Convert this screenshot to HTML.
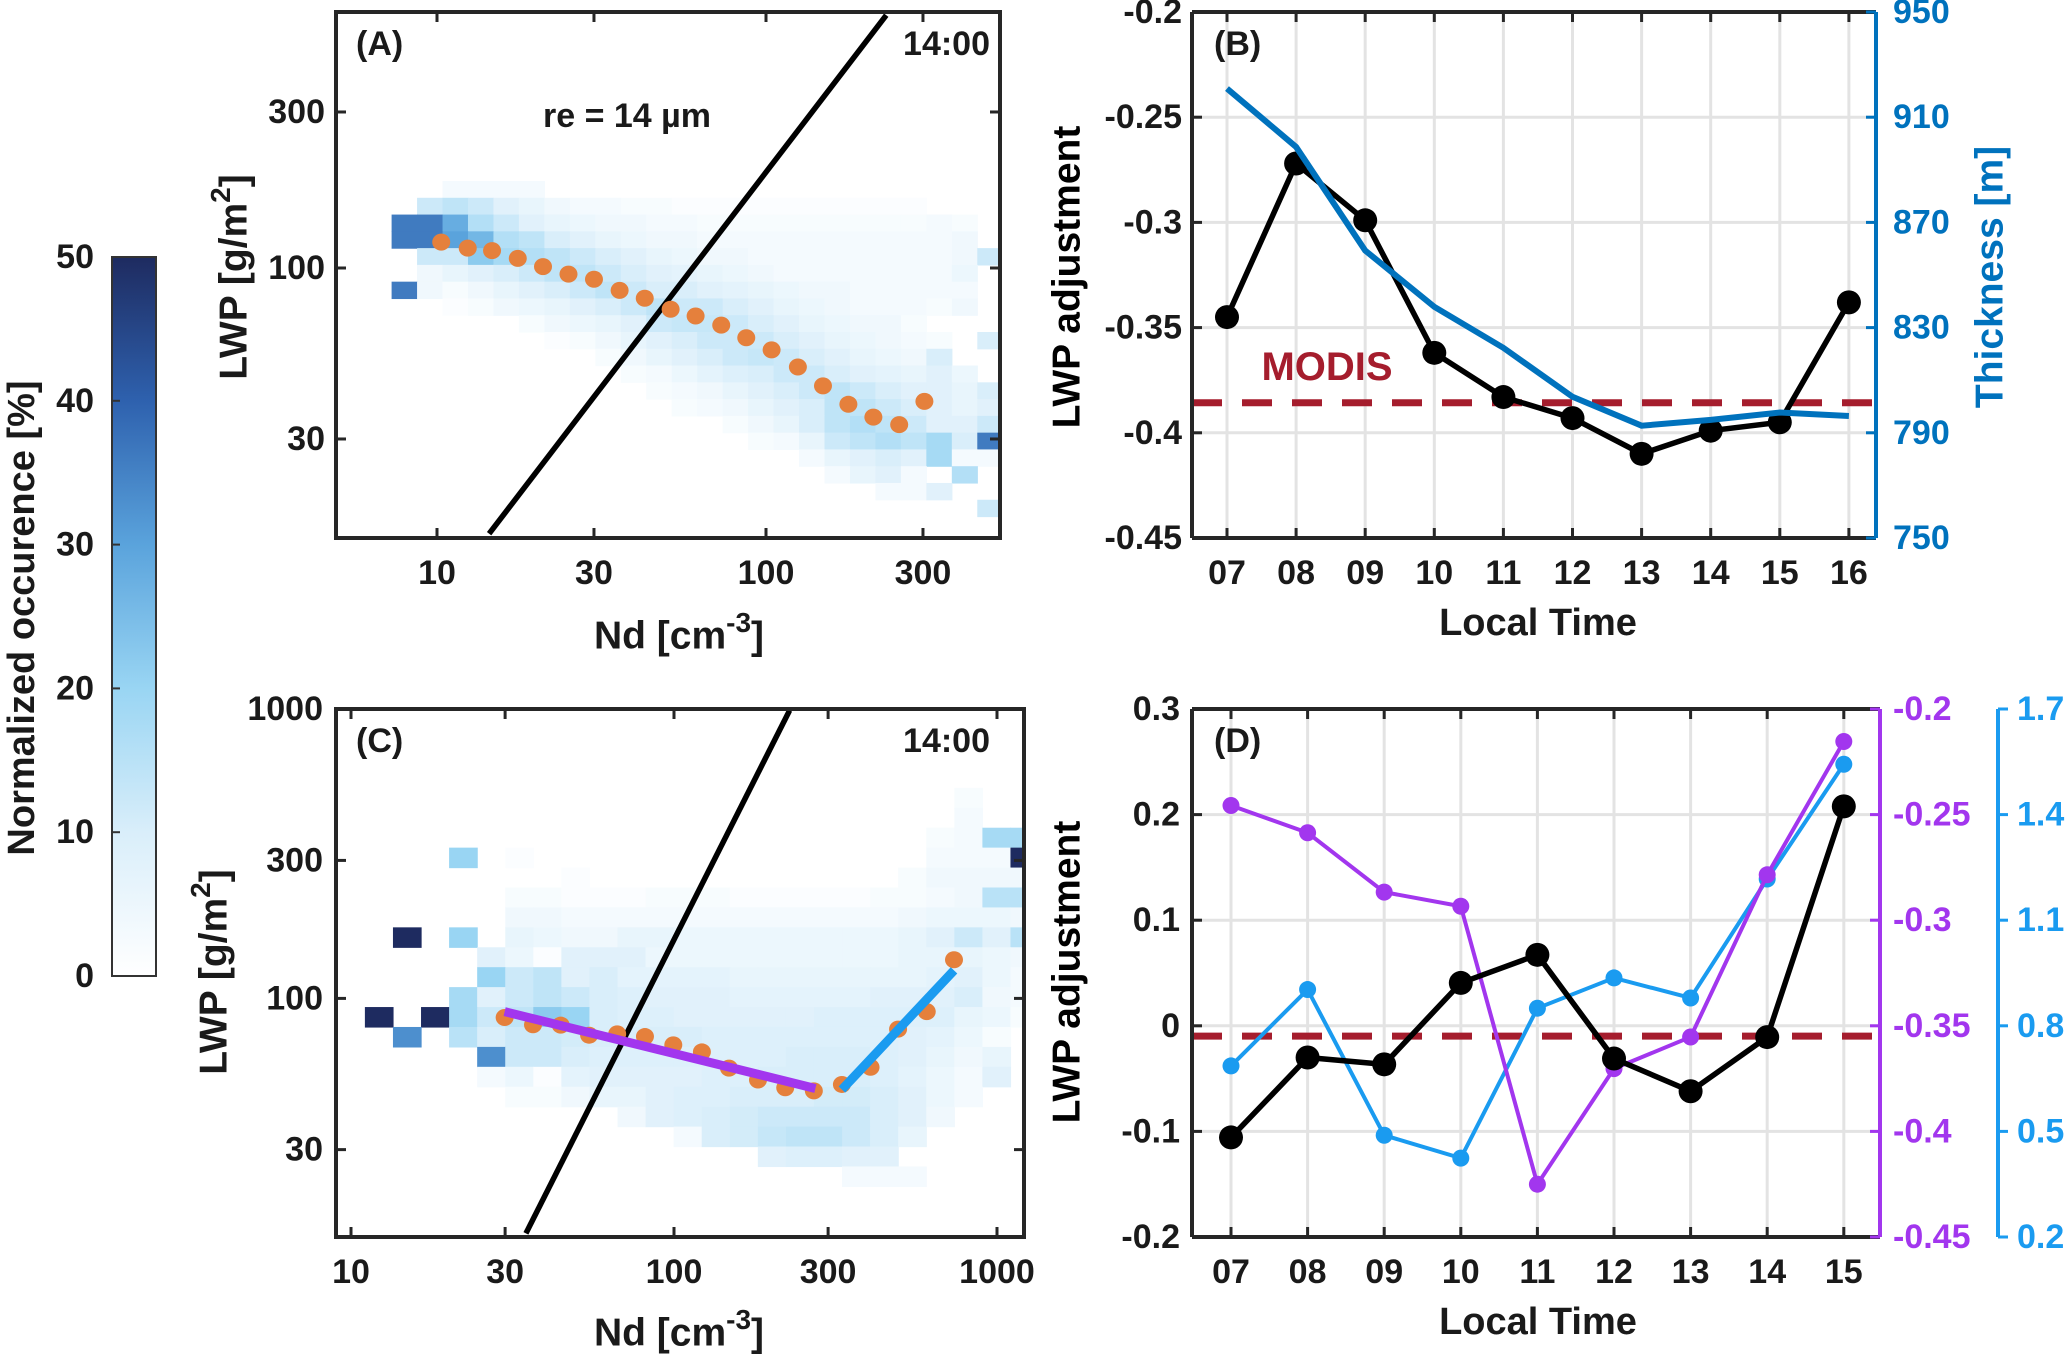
<!DOCTYPE html>
<html><head><meta charset="utf-8">
<style>
html,body{margin:0;padding:0;background:#fff;}
svg{display:block;font-family:"Liberation Sans",Arial,sans-serif;font-weight:bold;}
</style></head>
<body>
<svg id="fig" width="2067" height="1356" viewBox="0 0 2067 1356" xmlns="http://www.w3.org/2000/svg">
<defs>
<linearGradient id="cbgrad" x1="0" y1="1" x2="0" y2="0">
<stop offset="0" stop-color="#ffffff"/>
<stop offset="0.2" stop-color="#d9eefa"/>
<stop offset="0.4" stop-color="#99d5f3"/>
<stop offset="0.6" stop-color="#5aa3dc"/>
<stop offset="0.8" stop-color="#2e61ae"/>
<stop offset="1" stop-color="#1e2b60"/>
</linearGradient>
<clipPath id="clipA"><rect x="336" y="12" width="664" height="526"/></clipPath>
<clipPath id="clipC"><rect x="336" y="709" width="688" height="528"/></clipPath>
</defs>
<g id="layer"></g>
</svg>
<script>
// ---------- DATA ----------
const heatA = [
[0,0,3,3,3,3,0,0,0,0,0,0,0,0,0,0,0,0,0,0,0,0,0,0],
[0,12,14,12,8,6,4,3,3,2,2,1,1,1,1,1,1,1,1,1,1,0,0,0],
[36,36,28,16,12,8,6,5,4,4,3,3,2,2,2,2,2,2,2,2,2,3,2,0],
[36,36,30,26,16,14,10,8,6,5,4,4,3,3,3,3,3,3,3,3,3,3,4,0],
[0,12,12,22,18,16,14,12,10,8,6,5,4,4,3,3,3,3,3,3,3,3,4,12],
[0,4,6,8,10,12,14,14,12,10,8,7,6,5,4,3,3,3,3,3,3,3,5,0],
[36,4,2,4,6,8,10,12,14,12,10,10,8,7,6,5,4,4,3,3,3,3,3,0],
[0,0,1,2,4,5,6,8,10,12,14,12,12,10,8,6,5,4,3,3,3,2,4,0],
[0,0,0,0,0,2,4,5,6,8,12,13,13,12,10,8,6,5,4,4,2,0,0,0],
[0,0,0,0,0,0,1,2,4,6,8,10,12,12,12,10,8,6,5,4,3,2,0,10],
[0,0,0,0,0,0,0,0,2,4,6,8,10,12,13,12,10,8,6,5,4,10,0,0],
[0,0,0,0,0,0,0,0,0,2,3,5,7,9,10,12,12,10,8,7,6,8,5,0],
[0,0,0,0,0,0,0,0,0,0,2,3,4,6,8,10,12,14,12,10,8,8,6,10],
[0,0,0,0,0,0,0,0,0,0,0,2,3,4,6,8,10,14,14,12,10,8,6,8],
[0,0,0,0,0,0,0,0,0,0,0,0,0,2,4,6,10,14,16,14,12,8,8,12],
[0,0,0,0,0,0,0,0,0,0,0,0,0,0,2,3,6,12,14,16,14,18,10,36],
[0,0,0,0,0,0,0,0,0,0,0,0,0,0,0,0,3,6,8,10,8,18,3,3],
[0,0,0,0,0,0,0,0,0,0,0,0,0,0,0,0,0,3,6,8,3,0,16,0],
[0,0,0,0,0,0,0,0,0,0,0,0,0,0,0,0,0,0,0,3,3,8,0,0],
[0,0,0,0,0,0,0,0,0,0,0,0,0,0,0,0,0,0,0,0,0,0,0,12]
];
const heatC = [
[0,0,0,0,0,0,0,0,0,0,0,0,0,0,0,0,0,0,0,0,0,2,0,0],
[0,0,0,0,0,0,0,0,0,0,0,0,0,0,0,0,0,0,0,0,0,3,0,0],
[0,0,0,0,0,0,0,0,0,0,0,0,0,0,0,0,0,0,0,0,2,3,18,18],
[0,0,0,20,0,1,0,0,0,0,0,0,0,0,0,0,0,0,0,0,3,3,3,50],
[0,0,0,0,0,0,0,1,0,0,0,0,0,0,0,0,0,0,0,2,4,4,4,4],
[0,0,0,0,0,2,2,1,1,1,2,2,2,1,1,1,1,1,2,2,3,4,15,15],
[0,0,0,0,0,4,4,3,3,3,3,3,3,3,3,3,3,3,3,4,5,5,5,4],
[0,50,0,20,0,6,5,4,4,6,6,5,5,5,5,5,5,5,5,6,8,12,8,15],
[0,0,0,0,8,5,1,8,8,8,5,5,5,5,5,5,5,5,5,6,6,6,5,4],
[0,0,0,0,20,12,14,8,10,7,7,7,7,6,6,6,6,6,6,6,7,8,5,3],
[0,0,0,18,8,12,14,12,10,9,8,8,8,7,7,7,7,7,8,8,8,10,4,3],
[50,0,50,18,12,14,22,20,10,9,9,8,8,8,8,8,9,9,9,9,9,6,5,2],
[0,33,0,15,10,12,12,11,10,10,10,10,9,9,9,9,9,9,9,8,7,5,2,0],
[0,0,0,0,33,12,12,10,9,9,9,9,9,9,9,10,10,10,9,8,6,4,6,0],
[0,0,0,0,3,5,1,7,8,8,8,8,9,9,10,10,10,10,9,7,5,3,8,0],
[0,0,0,0,0,2,2,4,6,6,8,9,9,10,10,10,11,11,10,8,5,3,0,0],
[0,0,0,0,0,0,0,0,0,4,8,9,10,11,12,12,12,12,10,8,4,0,0,0],
[0,0,0,0,0,0,0,0,0,0,0,3,10,11,13,14,14,12,10,6,0,0,0,0],
[0,0,0,0,0,0,0,0,0,0,0,0,0,0,8,9,9,8,8,0,0,0,0,0],
[0,0,0,0,0,0,0,0,0,0,0,0,0,0,0,0,0,3,3,3,0,0,0,0]
];
const dotsA_x = [10.3,12.4,14.7,17.6,21.0,25.1,30.0,35.9,42.8,51.3,61.1,73.1,87.1,104,125,149,178,212,254,303];
const dotsA_y = [120,115,113,107,101,95.8,92.4,85.4,80.8,74.8,71.3,66.9,61.2,56.2,49.8,43.6,38.3,35.0,33.2,39.1];
const reLineA_x = [14.4,232];
const reLineA_y = [15.4,593];
const dotsC_x = [29.9,36.6,44.6,54.6,66.7,81.3,99.5,122,148,182,221,271,331,406,494,606,736];
const dotsC_y = [85.9,81.1,80.8,74.6,75.4,73.8,69.1,65.3,57.4,52.2,49.1,47.9,50.4,57.8,78.3,90.0,136];
const reLineC_x = [34.8,228];
const reLineC_y = [15.4,991];
const fitLow_x = [29.9,274];
const fitLow_y = [90.0,48.8];
const fitHigh_x = [331,736];
const fitHigh_y = [48.4,125];
const timesB = ["07","08","09","10","11","12","13","14","15","16"];
const adjB = [-0.345,-0.272,-0.299,-0.362,-0.383,-0.393,-0.410,-0.399,-0.395,-0.338];
const thickB = [920.9,898.7,859.3,837.9,822.3,803.7,792.7,794.9,797.7,796.4];
const modisB = -0.3857;
const timesD = ["07","08","09","10","11","12","13","14","15"];
const adjD = [-0.1057,-0.030,-0.0365,0.0406,0.0672,-0.031,-0.062,-0.0107,0.2078];
const purpD = [-0.2457,-0.2586,-0.2867,-0.2934,-0.425,-0.3703,-0.3553,-0.2785,-0.2154];
const blueD = [0.686,0.903,0.489,0.424,0.850,0.936,0.879,1.217,1.543];
const modisD = -0.0098;
const ticksBleft = ["-0.2","-0.25","-0.3","-0.35","-0.4","-0.45"];
const ticksBright = ["950","910","870","830","790","750"];
const ticksDleft = ["0.3","0.2","0.1","0","-0.1","-0.2"];
const ticksDpurp = ["-0.2","-0.25","-0.3","-0.35","-0.4","-0.45"];
const ticksDblue = ["1.7","1.4","1.1","0.8","0.5","0.2"];
const ticksAx = [10,30,100,300];
const ticksAy = [30,100,300];
const ticksCx = [10,30,100,300,1000];
const ticksCy = [30,100,300,1000];
const cbTicks = [0,10,20,30,40,50];

// ---------- HELPERS ----------
const NS="http://www.w3.org/2000/svg";
const layer=document.getElementById('layer');
function mk(tag,attrs,parent){const e=document.createElementNS(NS,tag);for(const k in attrs)e.setAttribute(k,attrs[k]);(parent||layer).appendChild(e);return e;}
function txt(s,x,y,size,anchor,fill,parent,rot){const e=mk('text',{x:x,y:y,'font-size':size,'text-anchor':anchor||'middle','dominant-baseline':'central',fill:fill||'#1a1a1a'},parent);if(rot)e.setAttribute('transform','rotate('+rot+' '+x+' '+y+')');e.textContent=s;return e;}
const L=Math.log10;
const xA=v=>437+(L(v)-1)*329;
const yA=v=>268-(L(v)-2)*327;
const xC=v=>351+(L(v)-1)*323;
const yC=v=>998.4-(L(v)-2)*289.2;
function cmap(v){
 const st=[[0,[255,255,255]],[10,[217,238,250]],[20,[153,213,243]],[30,[90,163,220]],[40,[46,97,174]],[50,[30,43,96]]];
 for(let i=0;i<st.length-1;i++){if(v<=st[i+1][0]){const t=(v-st[i][0])/(st[i+1][0]-st[i][0]);const a=st[i][1],b=st[i+1][1];return 'rgb('+a.map((c,j)=>Math.round(c+(b[j]-c)*t)).join(',')+')';}}
 return 'rgb(30,43,96)';
}

// ---------- COLORBAR ----------
const cb=mk('g',{});


mk('rect',{x:112,y:257,width:44,height:719,fill:'url(#cbgrad)',stroke:'#333','stroke-width':2},cb);
const cbY=v=>976-v/50*719;
cbTicks.forEach(t=>{mk('line',{x1:112,x2:120,y1:cbY(t),y2:cbY(t),stroke:'#333','stroke-width':2},cb);txt(String(t),94,cbY(t),34,'end','#1a1a1a',cb);});
const cbl=txt('Normalized occurence [%]',22,618,38,'middle','#1a1a1a',cb,-90);



// ---------- HEATMAP DRAW ----------
function heat(mat,x0log,dx,y0log,dy,xf,yf,clip,name){
 const g=mk('g',{'clip-path':'url(#'+clip+')'});
 
 
 mat.forEach((row,r)=>row.forEach((v,c)=>{ if(v<=0)return;
  const xa=xf(Math.pow(10,x0log+c*dx)),xb=xf(Math.pow(10,x0log+(c+1)*dx));
  const ya=yf(Math.pow(10,y0log-r*dy)),yb=yf(Math.pow(10,y0log-(r+1)*dy));
  const e=mk('rect',{x:xa,y:ya,width:xb-xa+0.6,height:yb-ya+0.6,fill:cmap(v)},g);
  
  
 }));
 return g;
}

// ---------- PANEL A ----------
heat(heatA,0.862,0.0774,2.266,0.0513,xA,yA,'clipA','heatmap-a');
const lA=mk('line',{x1:xA(reLineA_x[0]),y1:yA(reLineA_y[0]),x2:xA(reLineA_x[1]),y2:yA(reLineA_y[1]),stroke:'#000','stroke-width':5.5,'clip-path':'url(#clipA)'});


dotsA_x.forEach((v,i)=>{const e=mk('ellipse',{cx:xA(v),cy:yA(dotsA_y[i]),rx:9,ry:8.5,fill:'#e5803c'});
 
 });
mk('rect',{x:336,y:12,width:664,height:526,fill:'none',stroke:'#262626','stroke-width':4});
ticksAx.forEach(t=>{const x=xA(t);mk('line',{x1:x,x2:x,y1:538,y2:528,stroke:'#262626','stroke-width':3});mk('line',{x1:x,x2:x,y1:12,y2:22,stroke:'#262626','stroke-width':3});txt(String(t),x,573,34);});
ticksAy.forEach(t=>{const y=yA(t);mk('line',{x1:336,x2:346,y1:y,y2:y,stroke:'#262626','stroke-width':3});mk('line',{x1:1000,x2:990,y1:y,y2:y,stroke:'#262626','stroke-width':3});txt(String(t),325,y,34,'end');});
txt('(A)',356,44,34,'start');
txt('14:00',990,44,34,'end');
txt('re = 14 µm',627,116,34);
{const t=txt('',234,277,39,'middle','#1a1a1a',null,-90);t.innerHTML='LWP [g/m<tspan dy="-14" font-size="28">2</tspan><tspan dy="14">]</tspan>';}
{const t=txt('',679,636,39);t.innerHTML='Nd [cm<tspan dy="-14" font-size="28">-3</tspan><tspan dy="14">]</tspan>';}

// ---------- PANEL C ----------
heat(heatC,1.043,0.0869,2.728,0.0689,xC,yC,'clipC','heatmap-c');
const lC=mk('line',{x1:xC(reLineC_x[0]),y1:yC(reLineC_y[0]),x2:xC(reLineC_x[1]),y2:yC(reLineC_y[1]),stroke:'#000','stroke-width':5.5,'clip-path':'url(#clipC)'});


dotsC_x.forEach((v,i)=>{const e=mk('ellipse',{cx:xC(v),cy:yC(dotsC_y[i]),rx:9,ry:8.5,fill:'#e5803c'});
 
 });
const fl=mk('line',{x1:xC(fitLow_x[0]),y1:yC(fitLow_y[0]),x2:xC(fitLow_x[1]),y2:yC(fitLow_y[1]),stroke:'#a236ee','stroke-width':9});


const fh=mk('line',{x1:xC(fitHigh_x[0]),y1:yC(fitHigh_y[0]),x2:xC(fitHigh_x[1]),y2:yC(fitHigh_y[1]),stroke:'#1a9bf0','stroke-width':9});


mk('rect',{x:336,y:709,width:688,height:528,fill:'none',stroke:'#262626','stroke-width':4});
ticksCx.forEach(t=>{const x=xC(t);mk('line',{x1:x,x2:x,y1:1237,y2:1227,stroke:'#262626','stroke-width':3});mk('line',{x1:x,x2:x,y1:709,y2:719,stroke:'#262626','stroke-width':3});txt(String(t),x,1272,34);});
ticksCy.forEach(t=>{const y=yC(t);mk('line',{x1:336,x2:346,y1:y,y2:y,stroke:'#262626','stroke-width':3});mk('line',{x1:1024,x2:1014,y1:y,y2:y,stroke:'#262626','stroke-width':3});txt(String(t),323,y,34,'end');});
txt('(C)',356,741,34,'start');
txt('14:00',990,741,34,'end');
{const t=txt('',214,972,39,'middle','#1a1a1a',null,-90);t.innerHTML='LWP [g/m<tspan dy="-14" font-size="28">2</tspan><tspan dy="14">]</tspan>';}
{const t=txt('',679,1333,39);t.innerHTML='Nd [cm<tspan dy="-14" font-size="28">-3</tspan><tspan dy="14">]</tspan>';}

// ---------- PANEL B ----------
const xB=i=>1227+i*69.1;
const yB=v=>12+(-0.2-v)/0.25*526;
const yBr=v=>12+(950-v)/200*526;
for(let i=0;i<timesB.length;i++){mk('line',{x1:xB(i),x2:xB(i),y1:12,y2:538,stroke:'#e3e3e3','stroke-width':3});}
ticksBleft.forEach((t,i)=>{const y=12+i*105.2;mk('line',{x1:1192,x2:1876,y1:y,y2:y,stroke:'#e3e3e3','stroke-width':3});});
const mB=mk('line',{x1:1192,x2:1876,y1:yB(modisB),y2:yB(modisB),stroke:'#a51d2d','stroke-width':7,'stroke-dasharray':'30 20'});


{const t=txt('MODIS',1327,367,40,'middle','#a51d2d');}
const pB=mk('polyline',{points:adjB.map((v,i)=>xB(i)+','+yB(v)).join(' '),fill:'none',stroke:'#000','stroke-width':5.5});


adjB.forEach((v,i)=>{const e=mk('circle',{cx:xB(i),cy:yB(v),r:12,fill:'#000'});});
const tB=mk('polyline',{points:thickB.map((v,i)=>xB(i)+','+yBr(v)).join(' '),fill:'none',stroke:'#0072bd','stroke-width':6});


mk('line',{x1:1192,x2:1876,y1:12,y2:12,stroke:'#262626','stroke-width':4});
mk('line',{x1:1192,x2:1876,y1:538,y2:538,stroke:'#262626','stroke-width':4});
mk('line',{x1:1192,x2:1192,y1:12,y2:538,stroke:'#262626','stroke-width':4});
mk('line',{x1:1876,x2:1876,y1:12,y2:538,stroke:'#0072bd','stroke-width':4});
ticksBleft.forEach((t,i)=>{const y=12+i*105.2;mk('line',{x1:1192,x2:1202,y1:y,y2:y,stroke:'#262626','stroke-width':3});txt(t,1182,y,34,'end');});
ticksBright.forEach((t,i)=>{const y=12+i*105.2;mk('line',{x1:1876,x2:1866,y1:y,y2:y,stroke:'#0072bd','stroke-width':3});txt(t,1893,y,34,'start','#0072bd');});
timesB.forEach((t,i)=>{mk('line',{x1:xB(i),x2:xB(i),y1:538,y2:528,stroke:'#262626','stroke-width':3});mk('line',{x1:xB(i),x2:xB(i),y1:12,y2:22,stroke:'#262626','stroke-width':3});txt(t,xB(i),573,34);});
txt('(B)',1214,44,34,'start');
txt('LWP adjustment',1067,277,39,'middle','#000',null,-90);
txt('Thickness [m]',1990,277,39,'middle','#0072bd',null,-90);
txt('Local Time',1538,623,38);

// ---------- PANEL D ----------
const xD=i=>1231+i*76.6;
const yD=v=>709+(0.3-v)/0.5*528;
const yDp=v=>709+(-0.2-v)/0.25*528;
const yDb=v=>709+(1.7-v)/1.5*528;
for(let i=0;i<timesD.length;i++){mk('line',{x1:xD(i),x2:xD(i),y1:709,y2:1237,stroke:'#e3e3e3','stroke-width':3});}
ticksDleft.forEach((t,i)=>{const y=709+i*105.6;mk('line',{x1:1192,x2:1880,y1:y,y2:y,stroke:'#e3e3e3','stroke-width':3});});
const mD=mk('line',{x1:1192,x2:1880,y1:yD(modisD),y2:yD(modisD),stroke:'#a51d2d','stroke-width':7,'stroke-dasharray':'30 20'});


const pDb=mk('polyline',{points:blueD.map((v,i)=>xD(i)+','+yDb(v)).join(' '),fill:'none',stroke:'#1a9bf0','stroke-width':4});


blueD.forEach((v,i)=>{const e=mk('circle',{cx:xD(i),cy:yDb(v),r:8.5,fill:'#1a9bf0'});});
const pDp=mk('polyline',{points:purpD.map((v,i)=>xD(i)+','+yDp(v)).join(' '),fill:'none',stroke:'#a236ee','stroke-width':4});


purpD.forEach((v,i)=>{const e=mk('circle',{cx:xD(i),cy:yDp(v),r:8.5,fill:'#a236ee'});});
const pD=mk('polyline',{points:adjD.map((v,i)=>xD(i)+','+yD(v)).join(' '),fill:'none',stroke:'#000','stroke-width':5.5});


adjD.forEach((v,i)=>{const e=mk('circle',{cx:xD(i),cy:yD(v),r:12,fill:'#000'});});
mk('line',{x1:1192,x2:1880,y1:709,y2:709,stroke:'#262626','stroke-width':4});
mk('line',{x1:1192,x2:1880,y1:1237,y2:1237,stroke:'#262626','stroke-width':4});
mk('line',{x1:1192,x2:1192,y1:709,y2:1237,stroke:'#262626','stroke-width':4});
mk('line',{x1:1880,x2:1880,y1:709,y2:1237,stroke:'#a236ee','stroke-width':4});
mk('line',{x1:1998,x2:1998,y1:709,y2:1237,stroke:'#1a9bf0','stroke-width':4});
ticksDleft.forEach((t,i)=>{const y=709+i*105.6;mk('line',{x1:1192,x2:1202,y1:y,y2:y,stroke:'#262626','stroke-width':3});txt(t,1180,y,34,'end');});
ticksDpurp.forEach((t,i)=>{const y=709+i*105.6;mk('line',{x1:1880,x2:1870,y1:y,y2:y,stroke:'#a236ee','stroke-width':3});txt(t,1893,y,34,'start','#a236ee');});
ticksDblue.forEach((t,i)=>{const y=709+i*105.6;mk('line',{x1:1998,x2:2008,y1:y,y2:y,stroke:'#1a9bf0','stroke-width':3});txt(t,2017,y,34,'start','#1a9bf0');});
timesD.forEach((t,i)=>{mk('line',{x1:xD(i),x2:xD(i),y1:1237,y2:1227,stroke:'#262626','stroke-width':3});mk('line',{x1:xD(i),x2:xD(i),y1:709,y2:719,stroke:'#262626','stroke-width':3});txt(t,xD(i),1272,34);});
txt('(D)',1214,741,34,'start');
txt('LWP adjustment',1067,972,39,'middle','#000',null,-90);
txt('Local Time',1538,1322,38);
</script>
</body></html>
